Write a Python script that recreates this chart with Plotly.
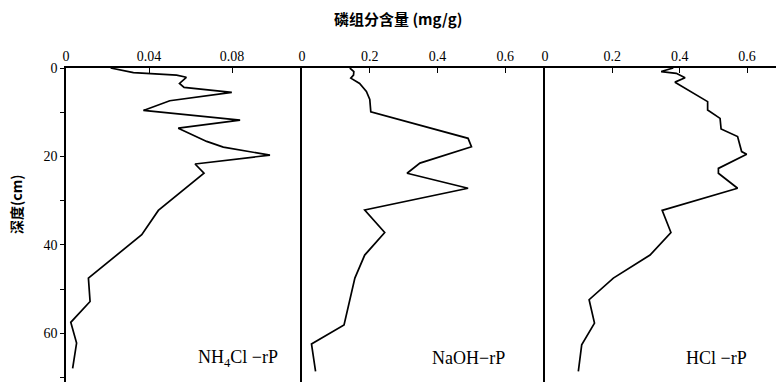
import plotly.graph_objects as go

# NH4Cl-rP
nh4_depth = [0, 1.05, 1.6, 2.1, 3.5, 4.4, 5.5, 7.4, 9.6, 11.8, 13.6, 16.6, 17.9, 19.7, 21.7, 23.8,
             32.2, 37.7, 47.5, 52.8, 57.5, 62.2, 67.9]
nh4_val = [0.0215, 0.0325, 0.0533, 0.058, 0.0547, 0.0569, 0.0799, 0.050, 0.0373, 0.0839, 0.0541,
           0.0678, 0.0758, 0.0983, 0.0622, 0.0665, 0.0445, 0.0365, 0.0108, 0.0116, 0.0023, 0.0051, 0.0032]

# NaOH-rP
naoh_depth = [0, 0.8, 1.6, 2.3, 3.5, 5.3, 7.1, 9.9, 15.9, 17.8, 21.5, 23.8, 27.2,
              32.1, 37.2, 42.3, 47.5, 58.1, 62.4, 68.6]
naoh_val = [0.141, 0.153, 0.152, 0.144, 0.170, 0.190, 0.200, 0.203, 0.490, 0.500, 0.348, 0.310, 0.490,
            0.185, 0.244, 0.185, 0.156, 0.124, 0.028, 0.040]

# HCl-rP
hcl_depth = [0, 0.8, 1.2, 2.2, 3.2, 5.3, 6.5, 7.6, 9.5, 11.4, 13.8, 15.5, 18.9, 19.5, 22.7, 23.8, 27.2,
             32.2, 37.2, 42.3, 47.5, 52.4, 57.7, 62.6, 68.6]
hcl_val = [0.381, 0.345, 0.39, 0.416, 0.386, 0.431, 0.456, 0.483, 0.483, 0.520, 0.523, 0.572, 0.584, 0.599,
           0.515, 0.515, 0.572, 0.348, 0.374, 0.312, 0.203, 0.131, 0.147, 0.109, 0.099]

x1_ticks = [0, 0.04, 0.08]
x_ticks = [0, 0.2, 0.4, 0.6]
y_ticks = [0, 20, 40, 60]
y_minor = [10, 30, 50, 70]

title_text = "<b>磷组分含量 (mg/g)</b>"
ytitle_text = "<b>深度(cm)</b>"
labels = ["NH<sub>4</sub>Cl −rP", "NaOH−rP", "HCl −rP"]

W, H = 776, 382
L, R, T, B = 66, 0, 68, 0
pw = W - L - R
ph = H - T - B

def fx(px):
    return (px - L) / pw

def fy(py):
    return (H - B - py) / ph

fig = go.Figure()
series = [(nh4_val, nh4_depth, "x", "y"), (naoh_val, naoh_depth, "x2", "y2"), (hcl_val, hcl_depth, "x3", "y3")]
for v, d, xa, ya in series:
    fig.add_trace(go.Scatter(x=v, y=d, mode="lines", xaxis=xa, yaxis=ya,
                             line=dict(color="black", width=1.7), showlegend=False))

tickfont = dict(family="Liberation Serif", size=14, color="black")
common_x = dict(side="top", showline=True, linecolor="black", linewidth=1.6, ticks="inside",
                ticklen=5, tickcolor="black", showgrid=False, zeroline=False, tickfont=tickfont,
                tickformat=".2~f", automargin=False)
doms = [(fx(66), fx(301)), (fx(302), fx(545)), (fx(545), 1.0)]
ranges = [[0, (301 - 66) / 83 * 0.04], [0, (545 - 302.3) / 67.7 * 0.2], [0, (776 - 545) / 336.7]]
tvs = [x1_ticks, x_ticks, x_ticks]
names = ["", "2", "3"]
layout = {}
for i in range(3):
    layout["xaxis" + names[i]] = dict(common_x, domain=list(doms[i]), range=ranges[i], tickvals=tvs[i],
                                      anchor="y" + names[i])
    ya = dict(domain=[0, 1], range=[71, 0], showline=True, linecolor="black", linewidth=1.6,
              showgrid=False, zeroline=False, anchor="x" + names[i], automargin=False)
    if i == 0:
        ya.update(tickvals=y_ticks, ticks="outside", ticklen=4, tickcolor="black",
                  tickfont=tickfont, showticklabels=True,
                  minor=dict(tickvals=y_minor, ticks="outside", ticklen=4, tickcolor="black"))
    else:
        ya.update(ticks="", showticklabels=False)
    layout["yaxis" + names[i]] = ya

fig.update_layout(**layout)

annos = [
    dict(text=title_text, x=fx(398), y=fy(18), xref="paper", yref="paper", showarrow=False,
         xanchor="center", yanchor="middle",
         font=dict(family="Noto Sans CJK SC", size=15, color="black")),
    dict(text=ytitle_text, x=fx(16), y=fy(205), xref="paper", yref="paper", showarrow=False,
         xanchor="center", yanchor="middle",
         textangle=-90, font=dict(family="Noto Sans CJK SC", size=14, color="black")),
]
lab_pos = [(238, 358), (468, 358), (716, 358)]
for t, (px, py) in zip(labels, lab_pos):
    annos.append(dict(text=t, x=fx(px), y=fy(py), xref="paper", yref="paper", showarrow=False,
                      xanchor="center", yanchor="middle",
                      font=dict(family="Liberation Serif", size=18, color="black")))

fig.update_layout(width=W, height=H, margin=dict(l=L, r=R, t=T, b=B, pad=0, autoexpand=False),
                  plot_bgcolor="white", paper_bgcolor="white", annotations=annos)

fig.write_html("out.html", config={"displayModeBar": False},
               post_script="document.body.style.margin='0';document.body.style.overflow='hidden';")
